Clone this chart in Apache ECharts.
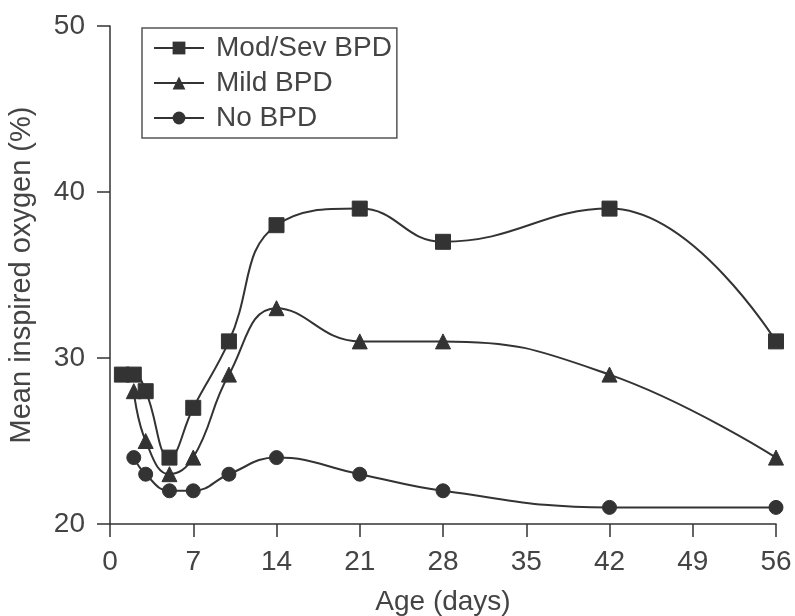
<!DOCTYPE html>
<html><head><meta charset="utf-8">
<script src="https://cdn.jsdelivr.net/npm/echarts@6/dist/echarts.min.js"></script>
<style>html,body{margin:0;padding:0;background:#fff}#c{width:795px;height:616px}</style>
</head><body><div id="c"></div>
<script>
const xTicks = [0, 7, 14, 21, 28, 35, 42, 49, 56];
const yTicks = [20, 30, 40, 50];
const seriesNames = ['Mod/Sev BPD', 'Mild BPD', 'No BPD'];
const modSevDays = [1, 2, 3, 5, 7, 10, 14, 21, 28, 42, 56];
const modSevVals = [29, 29, 28, 24, 27, 31, 38, 39, 37, 39, 31];
const mildDays = [2, 3, 5, 7, 10, 14, 21, 28, 42, 56];
const mildVals = [28, 25, 23, 24, 29, 33, 31, 31, 29, 24];
const noDays = [2, 3, 5, 7, 10, 14, 21, 28, 42, 56];
const noVals = [24, 23, 22, 22, 23, 24, 23, 22, 21, 21];

const ink = '#333';
const txt = '#444';
const font = 'Liberation Sans, Arial, sans-serif';
function pairs(xs, ys){ return xs.map((x,i)=>[x, ys[i]]); }
function mk(name, xs, ys, symbol, size){
  return {
    name, type:'line', data: pairs(xs, ys), smooth: 0.45,
    symbol, symbolSize: size,
    lineStyle:{color: ink, width: 2},
    itemStyle:{color: ink, borderColor: ink},
    emphasis:{disabled:true}
  };
}
const chart = echarts.init(document.getElementById('c'), null, {renderer:'canvas'});
chart.setOption({
  animation:false,
  backgroundColor:'#fff',
  grid:{left:110, right:19, top:26, bottom:92, containLabel:false, outerBoundsMode:'none'},
  legend:{
    orient:'vertical', left:142, top:28,
    data: seriesNames,
    borderColor: '#555', borderWidth: 1.5, borderRadius: 0,
    padding:[6, 5, 6, 11],
    itemWidth: 50, itemHeight: 16, itemGap: 7,
    textStyle:{fontFamily: font, fontSize: 28, color: txt, padding:[0,0,0,7]},
    selectedMode:false
  },
  xAxis:{
    type:'value', min: xTicks[0], max: xTicks[xTicks.length-1], interval: 7,
    name:'Age (days)', nameLocation:'middle', nameGap: 64,
    nameTextStyle:{fontFamily: font, fontSize: 28, color: txt},
    axisLine:{show:true, onZero:false, lineStyle:{color: ink, width: 1.5}},
    axisTick:{show:true, length: 13, lineStyle:{color: ink, width: 1.5}},
    axisLabel:{fontFamily: font, fontSize: 28, color: txt, margin: 24},
    splitLine:{show:false}
  },
  yAxis:{
    type:'value', min: yTicks[0], max: yTicks[yTicks.length-1], interval: 10,
    name:'Mean inspired oxygen (%)', nameLocation:'middle', nameGap: 74,
    nameTextStyle:{fontFamily: font, fontSize: 29, color: txt},
    axisLine:{show:true, onZero:false, lineStyle:{color: ink, width: 1.5}},
    axisTick:{show:true, length: 13, lineStyle:{color: ink, width: 1.5}},
    axisLabel:{fontFamily: font, fontSize: 28, color: txt, margin: 25},
    splitLine:{show:false}
  },
  series:[
    mk(seriesNames[0], modSevDays, modSevVals, 'rect', 15),
    mk(seriesNames[1], mildDays, mildVals, 'triangle', 15),
    mk(seriesNames[2], noDays, noVals, 'circle', 14)
  ]
});
</script></body></html>
